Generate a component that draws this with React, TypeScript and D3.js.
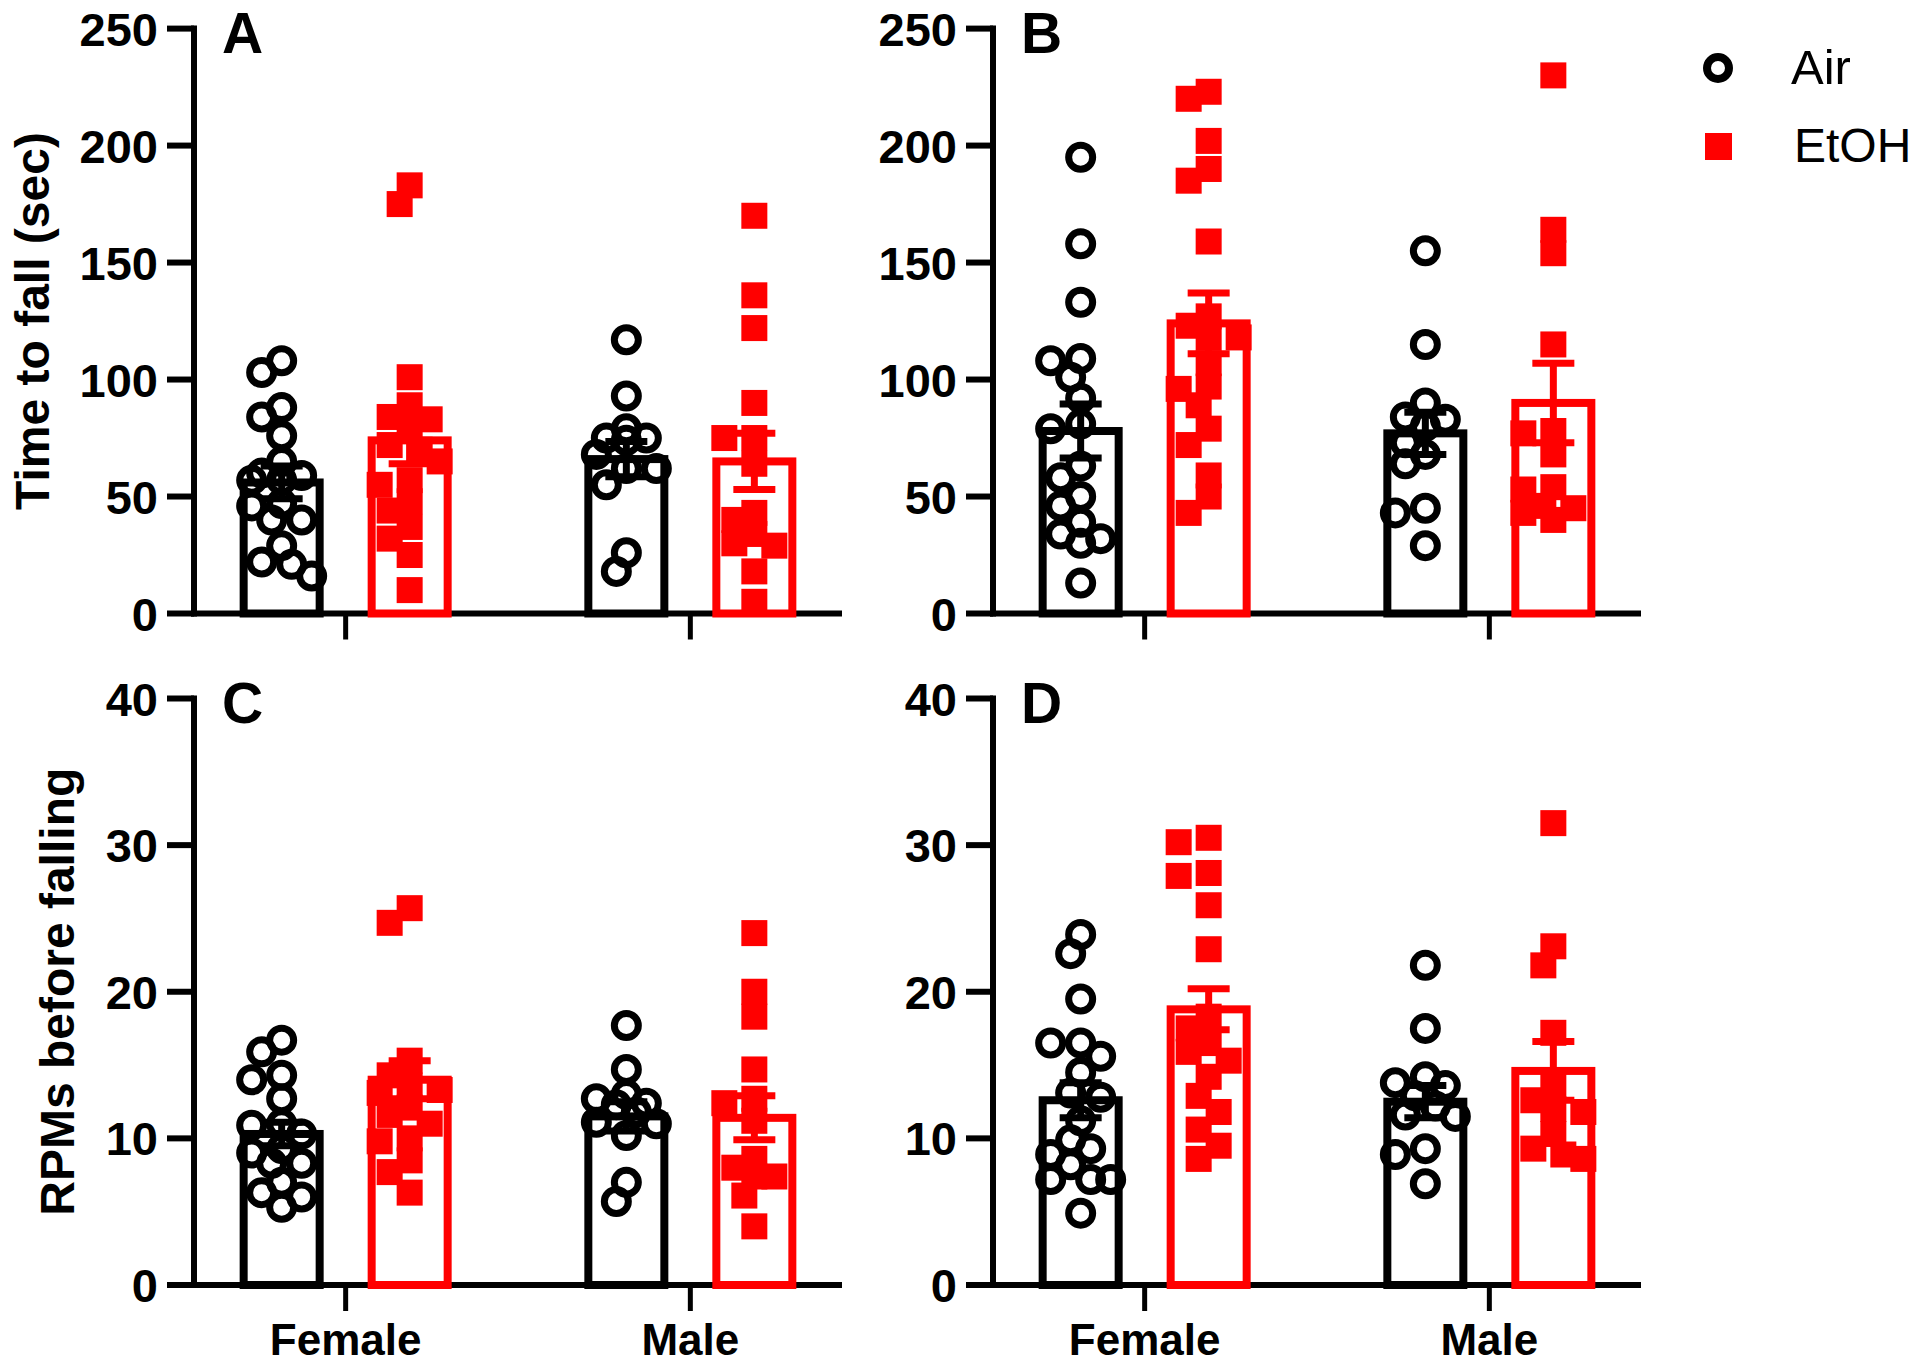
import React, { useRef, useEffect } from 'react';
import * as d3 from 'd3';

const sexes = ["Female", "Male"];
const treatments = ["Air", "EtOH"];
const timeTicks = [0, 50, 100, 150, 200, 250];
const rpmTicks = [0, 10, 20, 30, 40];

// Panel A - time to fall (sec)
const aFemaleAir = [108, 103, 88, 84, 76, 65, 60, 59, 57, 57, 47, 46, 40, 40, 29, 22, 21, 16];
const aFemaleEtoh = [183, 175, 101, 89, 84, 83, 78, 72, 70, 65, 57, 55, 48, 44, 37, 32, 25, 10];
const aMaleAir = [117, 93, 79, 75, 75, 74, 68, 62, 62, 55, 26, 18];
const aMaleEtoh = [170, 136, 122, 90, 75, 75, 64, 43, 40, 34, 30, 29, 18, 5];
const aMeans = [56, 74, 66, 65]; // F-Air, F-EtOH, M-Air, M-EtOH
const aSems = [7, 10, 7.5, 12];

// Panel B - time to fall (sec)
const bFemaleAir = [195, 158, 133, 109, 108, 101, 92, 81, 79, 63, 58, 50, 46, 39, 34, 32, 30, 13];
const bFemaleEtoh = [223, 220, 202, 190, 185, 159, 127, 123, 118, 118, 107, 97, 96, 89, 79, 72, 59, 50, 43];
const bMaleAir = [155, 115, 90, 84, 83, 80, 73, 68, 64, 45, 43, 29];
const bMaleEtoh = [230, 164, 154, 115, 78, 77, 68, 54, 53, 46, 45, 43, 40];
const bMeans = [78, 124, 77, 90];
const bSems = [11.5, 13, 9, 17];

// Panel C - RPMs before falling
const cFemaleAir = [16.7, 15.9, 14.3, 14.0, 12.7, 11.0, 10.9, 10.3, 9.3, 9.0, 8.3, 8.3, 7.0, 6.3, 6.0, 5.3];
const cFemaleEtoh = [25.7, 24.7, 15.3, 14.3, 13.6, 13.3, 13.1, 12.1, 11.6, 11.0, 10.0, 9.8, 8.5, 7.7, 6.3];
const cMaleAir = [17.7, 14.7, 13.0, 12.7, 12.4, 12.3, 11.8, 11.1, 11.0, 10.2, 7.0, 5.7];
const cMaleEtoh = [24.0, 20.0, 18.3, 14.7, 12.7, 12.4, 11.2, 8.6, 8.0, 7.4, 7.4, 6.1, 4.0];
const cMeans = [10.3, 14.0, 11.5, 11.4];
const cSems = [0.8, 1.3, 1.0, 1.5];

// Panel D - RPMs before falling
const dFemaleAir = [23.9, 22.6, 19.5, 16.5, 16.5, 15.6, 14.5, 13.1, 12.8, 11.2, 9.9, 9.3, 8.9, 8.2, 7.2, 7.2, 7.2, 4.9];
const dFemaleEtoh = [30.5, 30.2, 28.1, 27.9, 25.9, 22.9, 18.3, 17.5, 16.5, 15.9, 15.3, 14.2, 12.9, 11.8, 10.6, 9.5, 8.6];
const dMaleAir = [21.8, 17.5, 14.2, 13.8, 13.6, 12.9, 12.2, 11.6, 11.5, 9.3, 8.9, 6.9];
const dMaleEtoh = [31.5, 23.1, 21.8, 17.2, 13.5, 12.6, 12.0, 11.8, 10.3, 9.3, 8.9, 8.6];
const dMeans = [12.6, 18.8, 12.5, 14.6];
const dSems = [1.2, 1.4, 1.1, 2.0];

const colors: Record<string, string> = { Air: "#000000", EtOH: "#ff0000" };

// simple beeswarm: returns x offsets for each value
function swarm(values: number[], y: (v: number) => number, step: number, minDist: number, maxOff: number) {
  const order = values.map((v, i) => ({ i, py: y(v) })).sort((a, b) => a.py - b.py);
  const placed: { x: number; y: number }[] = [];
  const out: number[] = new Array(values.length).fill(0);
  for (const p of order) {
    let best = 0;
    let bestScore = -1;
    for (let k = 0; k < 16; k++) {
      const off = k === 0 ? 0 : (k % 2 ? -1 : 1) * Math.ceil(k / 2) * step;
      if (Math.abs(off) > maxOff) continue;
      const d = placed.length ? d3.min(placed, q => Math.hypot(q.x - off, q.y - p.py))! : Infinity;
      if (d >= minDist) { best = off; bestScore = Infinity; break; }
      if (d > bestScore) { bestScore = d; best = off; }
    }
    placed.push({ x: best, y: p.py });
    out[p.i] = best;
  }
  return out;
}

const RotarodFigure: React.FC = () => {
  const svgRef = useRef<SVGSVGElement | null>(null);

  useEffect(() => {
    document.body.style.margin = "0";
    const svg = d3.select(svgRef.current);
    svg.selectAll("*").remove();

    const width = 1920;
    const height = 1366;
    svg.attr("width", width).attr("height", height);

    const font = "'Liberation Sans', Arial, sans-serif";
    const axisLen = 648;

    const panels = [
      { letter: "A", groups: [aFemaleAir, aFemaleEtoh, aMaleAir, aMaleEtoh], means: aMeans, sems: aSems, ticks: timeTicks, x0: 194, top: 28.6, bottom: 613.5, yLabel: "Time to fall (sec)", labelX: 49, showCats: false },
      { letter: "B", groups: [bFemaleAir, bFemaleEtoh, bMaleAir, bMaleEtoh], means: bMeans, sems: bSems, ticks: timeTicks, x0: 993, top: 28.6, bottom: 613.5, yLabel: "", labelX: 0, showCats: false },
      { letter: "C", groups: [cFemaleAir, cFemaleEtoh, cMaleAir, cMaleEtoh], means: cMeans, sems: cSems, ticks: rpmTicks, x0: 194, top: 698.5, bottom: 1285, yLabel: "RPMs before falling", labelX: 74, showCats: true },
      { letter: "D", groups: [dFemaleAir, dFemaleEtoh, dMaleAir, dMaleEtoh], means: dMeans, sems: dSems, ticks: rpmTicks, x0: 993, top: 698.5, bottom: 1285, yLabel: "", labelX: 0, showCats: true },
    ];

    panels.forEach(p => {
      const g = svg.append("g");
      const y = d3.scaleLinear()
        .domain([0, d3.max(p.ticks)!])
        .range([p.bottom, p.top]);
      const x = d3.scalePoint<string>()
        .domain(sexes)
        .range([p.x0, p.x0 + axisLen])
        .padding(0.44);
      const xt = d3.scalePoint<string>()
        .domain(treatments)
        .range([-64, 64]);

      // y axis
      g.append("line")
        .attr("x1", p.x0).attr("x2", p.x0)
        .attr("y1", p.top - 3).attr("y2", p.bottom + 3)
        .attr("stroke", "#000").attr("stroke-width", 6);
      p.ticks.forEach(t => {
        g.append("line")
          .attr("x1", p.x0 - 27).attr("x2", p.x0)
          .attr("y1", y(t)).attr("y2", y(t))
          .attr("stroke", "#000").attr("stroke-width", 6);
        g.append("text")
          .attr("x", p.x0 - 36)
          .attr("y", y(t) + 17)
          .attr("text-anchor", "end")
          .attr("font-family", font)
          .attr("font-weight", "bold")
          .attr("font-size", 47)
          .text(t);
      });

      // x axis
      g.append("line")
        .attr("x1", p.x0 - 3).attr("x2", p.x0 + axisLen)
        .attr("y1", p.bottom).attr("y2", p.bottom)
        .attr("stroke", "#000").attr("stroke-width", 6);
      sexes.forEach(s => {
        g.append("line")
          .attr("x1", x(s)!).attr("x2", x(s)!)
          .attr("y1", p.bottom).attr("y2", p.bottom + 26)
          .attr("stroke", "#000").attr("stroke-width", 5);
        if (p.showCats) {
          g.append("text")
            .attr("x", x(s)!)
            .attr("y", 1355)
            .attr("text-anchor", "middle")
            .attr("font-family", font)
            .attr("font-weight", "bold")
            .attr("font-size", 44)
            .text(s);
        }
      });

      // panel letter
      g.append("text")
        .attr("x", p.x0 + 28)
        .attr("y", p.top + 24)
        .attr("font-family", font)
        .attr("font-weight", "bold")
        .attr("font-size", 57)
        .text(p.letter);

      // y label
      if (p.yLabel) {
        g.append("text")
          .attr("transform", `translate(${p.labelX},${(p.top + p.bottom) / 2}) rotate(-90)`)
          .attr("text-anchor", "middle")
          .attr("font-family", font)
          .attr("font-weight", "bold")
          .attr("font-size", 48)
          .text(p.yLabel);
      }

      const series = sexes.flatMap(s => treatments.map(t => ({ s, t })));

      // bars
      series.forEach((d, i) => {
        const cx = x(d.s)! + xt(d.t)!;
        g.append("rect")
          .attr("x", cx - 38)
          .attr("y", y(p.means[i]))
          .attr("width", 76)
          .attr("height", y(0) - y(p.means[i]))
          .attr("fill", "#fff")
          .attr("stroke", colors[d.t])
          .attr("stroke-width", 8);
      });

      // error bars
      series.forEach((d, i) => {
        const cx = x(d.s)! + xt(d.t)!;
        const lo = y(p.means[i] - p.sems[i]);
        const hi = y(p.means[i] + p.sems[i]);
        const eg = g.append("g").attr("stroke", colors[d.t]).attr("stroke-width", 7);
        eg.append("line").attr("x1", cx).attr("x2", cx).attr("y1", lo).attr("y2", hi);
        eg.append("line").attr("x1", cx - 21).attr("x2", cx + 21).attr("y1", hi).attr("y2", hi);
        eg.append("line").attr("x1", cx - 21).attr("x2", cx + 21).attr("y1", lo).attr("y2", lo);
      });

      // points
      series.forEach((d, i) => {
        const cx = x(d.s)! + xt(d.t)!;
        const vals = p.groups[i];
        const offs = swarm(vals, y, 10, 21, 32);
        if (d.t === "Air") {
          g.append("g").selectAll("circle")
            .data(vals)
            .join("circle")
            .attr("cx", (_, j) => cx + offs[j])
            .attr("cy", v => y(v))
            .attr("r", 12)
            .attr("fill", "none")
            .attr("stroke", "#000")
            .attr("stroke-width", 7);
        } else {
          g.append("g").selectAll("rect")
            .data(vals)
            .join("rect")
            .attr("x", (_, j) => cx + offs[j] - 13)
            .attr("y", v => y(v) - 13)
            .attr("width", 26)
            .attr("height", 26)
            .attr("fill", "#ff0000");
        }
      });
    });

    // legend
    const legend = svg.append("g");
    legend.append("circle")
      .attr("cx", 1718).attr("cy", 68)
      .attr("r", 11)
      .attr("fill", "none")
      .attr("stroke", "#000")
      .attr("stroke-width", 8);
    legend.append("rect")
      .attr("x", 1705).attr("y", 133)
      .attr("width", 27).attr("height", 27)
      .attr("fill", "#ff0000");
    legend.append("text")
      .attr("x", 1791).attr("y", 84)
      .attr("font-family", font)
      .attr("font-size", 49)
      .text("Air");
    legend.append("text")
      .attr("x", 1794).attr("y", 162)
      .attr("font-family", font)
      .attr("font-size", 48)
      .text("EtOH");
  }, []);

  return <svg ref={svgRef} style={{ display: "block" }}></svg>;
};

export default function App() {
  return <RotarodFigure />;
}
